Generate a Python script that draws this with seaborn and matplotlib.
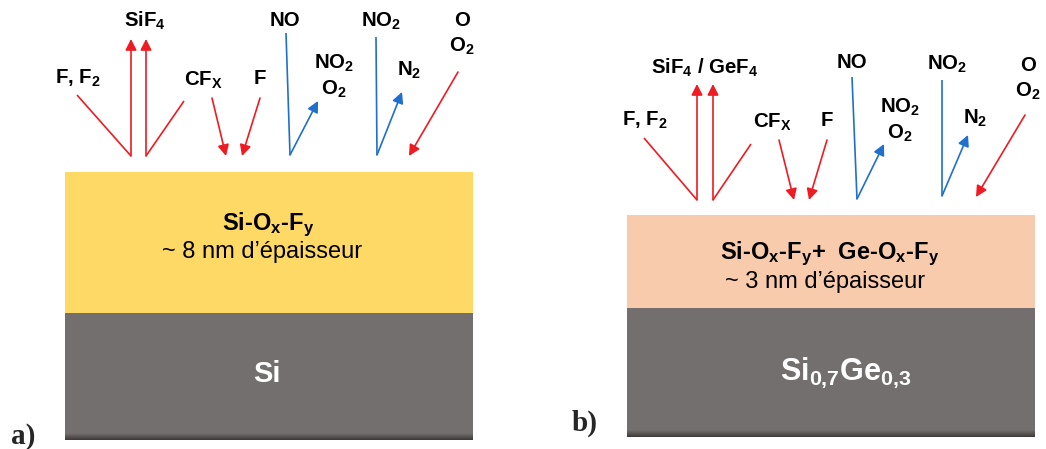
"""
Schematic of the SiOxFy / SiGe oxyfluoride layers and the gas species
leaving or hitting the surface, panels a) and b).
"""

import numpy as np
import matplotlib.pyplot as plt
import seaborn as sns
from matplotlib.patches import Rectangle

sns.set_theme(style="white")
plt.rcParams["font.family"] = ["Liberation Sans", "DejaVu Sans"]
plt.rcParams["mathtext.fontset"] = "custom"
plt.rcParams["mathtext.rm"] = "Liberation Sans:bold"
plt.rcParams["mathtext.it"] = "Liberation Sans:bold"
plt.rcParams["mathtext.bf"] = "Liberation Sans:bold"

RED = "#F01A22"
BLUE = "#1F6FCC"
GREY = "#736F6E"

# ---- panel texts
panel_tags = ["a)", "b)"]
top_layers = [r"Si-O$_x$-F$_y$", r"Si-O$_x$-F$_y$+  Ge-O$_x$-F$_y$"]
thickness = ["~ 8 nm d\u2019épaisseur", "~ 3 nm d\u2019épaisseur"]
substrates = ["Si", r"Si$_{0{,}7}$Ge$_{0{,}3}$"]
layer_colors = ["#FFD966", "#F8CBAD"]

# ---- species labels (same set for both panels, only SiF4 label differs)
species_a = ["F, F$_2$", "SiF$_4$", "CF$_X$", "F", "NO", "NO$_2$\nO$_2$",
             "NO$_2$", "N$_2$", "O\nO$_2$"]
species_b = ["F, F$_2$", "SiF$_4$ / GeF$_4$", "CF$_X$", "F", "NO", "NO$_2$\nO$_2$",
             "NO$_2$", "N$_2$", "O\nO$_2$"]

# ---- geometry (pixels, y downwards)
boxes = [  # x0, top of oxide, oxide/substrate interface, bottom
    (65, 172, 313, 440),
    (627, 215, 308, 437),
]
# text centres inside the stacks: top line, thickness line, substrate
stack_text_pos = [
    [(268, 225), (262, 252), (267, 374)],
    [(830, 254), (825, 282), (846, 373)],
]
label_pos_a = [(78, 78), (145, 21), (203, 80), (260, 78), (285, 20),
               (334, 76), (381, 21), (409, 70), (462, 34)]
label_pos_b = [(645, 120), (705, 68), (772, 122), (827, 120), (852, 63),
               (900, 120), (947, 64), (975, 118), (1028, 79)]

# segments: (x0, y0, x1, y1, colour, has_head)
segments_a = [
    (77, 95, 131, 156, RED, False),
    (131, 156, 131, 39, RED, True),
    (146, 156, 146, 39, RED, True),
    (146, 156, 184, 101, RED, False),
    (212, 98, 226, 156, RED, True),
    (260, 98, 242, 156, RED, True),
    (286, 33, 290, 155, BLUE, False),
    (290, 155, 318, 101, BLUE, True),
    (376, 37, 377, 155, BLUE, False),
    (377, 155, 402, 92, BLUE, True),
    (458, 72, 409, 156, RED, True),
]
segments_b = [
    (644, 138, 697, 200, RED, False),
    (697, 200, 697, 84, RED, True),
    (713, 200, 713, 84, RED, True),
    (713, 200, 751, 144, RED, False),
    (779, 140, 794, 200, RED, True),
    (827, 140, 809, 200, RED, True),
    (852, 77, 857, 199, BLUE, False),
    (857, 199, 884, 144, BLUE, True),
    (942, 80, 942, 196, BLUE, False),
    (942, 196, 968, 135, BLUE, True),
    (1025, 115, 976, 197, RED, True),
]

W, H = 1046, 449
fig = plt.figure(figsize=(W / 100, H / 100), dpi=100)
ax = fig.add_axes([0, 0, 1, 1])
ax.set_xlim(0, W)
ax.set_ylim(H, 0)
ax.axis("off")

BOX_W = 408


def draw_stack(ax, box, color, texts, positions, sub_size):
    x0, y0, y1, y2 = box
    ax.add_patch(Rectangle((x0, y0), BOX_W, y1 - y0, color=color, lw=0))
    ax.add_patch(Rectangle((x0, y1), BOX_W, y2 - y1, color=GREY, lw=0))
    # dark shade at the bottom edge of the substrate
    shade = np.linspace(0, 1, 20).reshape(-1, 1)
    ax.imshow(shade, cmap=sns.blend_palette([GREY, "#3e3a3a"], as_cmap=True),
              extent=(x0, x0 + BOX_W, y2, y2 - 7), aspect="auto", zorder=2)
    top_txt, thick_txt, sub_txt = texts
    (tx, ty), (hx, hy), (sx, sy) = positions
    ax.text(tx, ty, top_txt, ha="center", va="center", fontsize=17,
            fontweight="bold", color="black")
    ax.text(hx, hy, thick_txt, ha="center", va="center", fontsize=17,
            color="black")
    ax.text(sx, sy, sub_txt, ha="center", va="center", fontsize=sub_size,
            fontweight="bold", color="white")


def draw_species(ax, labels, positions, segments):
    for (x0, y0, x1, y1, c, head) in segments:
        if head:
            ax.annotate("", xy=(x1, y1), xytext=(x0, y0),
                        arrowprops=dict(arrowstyle="-|>,head_length=0.55,head_width=0.28",
                                        color=c, lw=1.2, shrinkA=0, shrinkB=0,
                                        mutation_scale=12))
        else:
            ax.plot([x0, x1], [y0, y1], color=c, lw=1.2, solid_capstyle="butt")
    for txt, (x, y) in zip(labels, positions):
        ax.text(x, y, txt, ha="center", va="center", fontsize=14.7,
                fontweight="bold", color="black", linespacing=1.3)


draw_stack(ax, boxes[0], layer_colors[0],
           (top_layers[0], thickness[0], substrates[0]), stack_text_pos[0], 21)
draw_stack(ax, boxes[1], layer_colors[1],
           (top_layers[1], thickness[1], substrates[1]), stack_text_pos[1], 22)
draw_species(ax, species_a, label_pos_a, segments_a)
draw_species(ax, species_b, label_pos_b, segments_b)

ax.text(23, 436, panel_tags[0], ha="center", va="center", fontsize=21,
        fontweight="bold", family="Liberation Serif")
ax.text(585, 423, panel_tags[1], ha="center", va="center", fontsize=21,
        fontweight="bold", family="Liberation Serif")

fig.savefig("out.png", dpi=100)
